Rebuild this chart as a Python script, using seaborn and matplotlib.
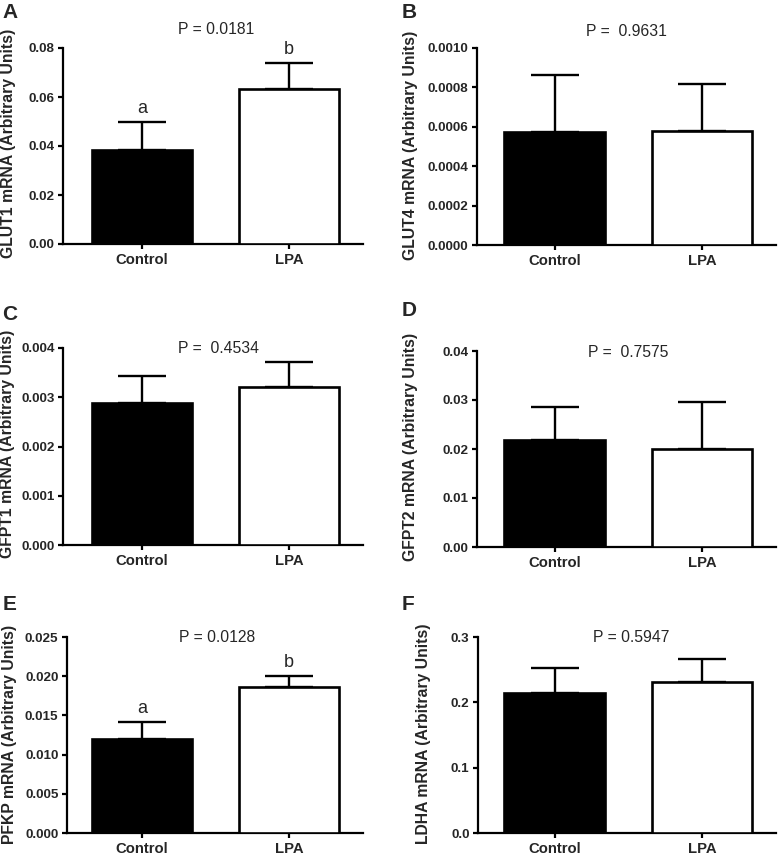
import matplotlib
matplotlib.use("Agg")
import matplotlib.pyplot as plt
from matplotlib.ticker import FormatStrFormatter
import seaborn as sns
import pandas as pd
import numpy as np

# ---------------- data ----------------
groups = ["Control", "LPA"]
panel_letters = ["A", "B", "C", "D", "E", "F"]
genes = ["GLUT1", "GLUT4", "GFPT1", "GFPT2", "PFKP", "LDHA"]
p_texts = ["P = 0.0181", "P =  0.9631", "P =  0.4534",
           "P =  0.7575", "P = 0.0128", "P = 0.5947"]

glut1_mean = [0.0384, 0.0633]
glut1_sem = [0.0114, 0.0105]
glut4_mean = [0.000574, 0.000579]
glut4_sem = [0.000289, 0.000238]
gfpt1_mean = [0.00288, 0.00321]
gfpt1_sem = [0.00055, 0.00051]
gfpt2_mean = [0.0218, 0.0200]
gfpt2_sem = [0.0068, 0.0096]
pfkp_mean = [0.0120, 0.0186]
pfkp_sem = [0.0021, 0.0014]
ldha_mean = [0.215, 0.231]
ldha_sem = [0.037, 0.035]

means = [glut1_mean, glut4_mean, gfpt1_mean, gfpt2_mean, pfkp_mean, ldha_mean]
sems = [glut1_sem, glut4_sem, gfpt1_sem, gfpt2_sem, pfkp_sem, ldha_sem]
sig_letters = {"GLUT1": ["a", "b"], "PFKP": ["a", "b"]}

y_max = [0.08, 0.0010, 0.004, 0.04, 0.025, 0.3]
y_step = [0.02, 0.0002, 0.001, 0.01, 0.005, 0.1]
y_decimals = [2, 4, 3, 2, 3, 1]

# ---------------- layout (pixels) ----------------
W, H = 778, 856
axes_px = [(63, 363, 48, 244), (477, 776, 48, 245),
           (63, 363, 348, 545), (477, 776, 351, 547),
           (67, 363, 637, 833), (478, 776, 637, 833)]
xlims = [(-0.537, 1.503), (-0.525, 1.50), (-0.537, 1.503),
         (-0.525, 1.50), (-0.51, 1.503), (-0.519, 1.50)]
ylabel_pos = [(9, 143), (411, 145), (8, 444), (410, 447), (10, 734), (424, 734)]
ptext_pos = [(216, 30), (626, 32), (219, 349), (628, 352), (217, 637), (631, 637)]
letter_pos = [(2, 12), (402, 12), (2, 315), (402, 310), (3, 605), (402, 605)]

sns.set_style("ticks")
plt.rcParams["font.family"] = ["Liberation Sans", "DejaVu Sans"]

fig = plt.figure(figsize=(W / 100, H / 100), dpi=100)
fig.patch.set_facecolor("white")


def rect(l, r, t, b):
    return [l / W, 1 - b / H, (r - l) / W, (b - t) / H]


for i in range(6):
    ax = fig.add_axes(rect(*axes_px[i]))
    df = pd.DataFrame({"group": groups, "value": means[i]})
    sns.barplot(data=df, x="group", y="value", hue="group",
                palette={"Control": "black", "LPA": "white"},
                edgecolor="black", linewidth=1.9, width=0.68,
                errorbar=None, legend=False, ax=ax, zorder=3)
    ax.errorbar(x=[0, 1], y=means[i], yerr=[[0, 0], sems[i]], fmt="none",
                ecolor="black", elinewidth=1.7, capsize=17.3, capthick=1.7,
                zorder=2)
    ax.set_xlim(*xlims[i])
    ax.set_ylim(0, y_max[i])
    ax.set_yticks(np.arange(0, y_max[i] + y_step[i] / 2, y_step[i]))
    ax.yaxis.set_major_formatter(FormatStrFormatter(f"%.{y_decimals[i]}f"))
    ax.set_xlabel("")
    ax.set_ylabel("")
    sns.despine(ax=ax)
    for s in ["left", "bottom"]:
        ax.spines[s].set_linewidth(1.6)
        ax.spines[s].set_color("black")
    ax.tick_params(axis="both", direction="out", length=3.6, width=1.6,
                   color="black", pad=2.5)
    ax.tick_params(axis="y", labelsize=9.7)
    ax.tick_params(axis="x", labelsize=10.7, pad=3)
    for lab in ax.get_xticklabels() + ax.get_yticklabels():
        lab.set_fontweight("bold")
    ax.set_facecolor("white")
    ax.grid(False)

    g = genes[i]
    if g in sig_letters:
        for j, let in enumerate(sig_letters[g]):
            ax.annotate(let, xy=(j, means[i][j] + sems[i][j]),
                        xytext=(0, 6.5), textcoords="offset points",
                        ha="center", va="baseline", fontsize=13)

    lx, ly = ylabel_pos[i]
    fig.text(lx / W, 1 - ly / H, f"{g} mRNA (Arbitrary Units)",
             rotation=90, ha="center", va="center", fontsize=11.3,
             fontweight="bold")
    px, py = ptext_pos[i]
    fig.text(px / W, 1 - py / H, p_texts[i], ha="center", va="center",
             fontsize=11.3)
    tx, ty = letter_pos[i]
    fig.text(tx / W, 1 - ty / H, panel_letters[i], ha="left", va="center",
             fontsize=15, fontweight="bold")

fig.savefig("out.png", dpi=100, facecolor="white")
